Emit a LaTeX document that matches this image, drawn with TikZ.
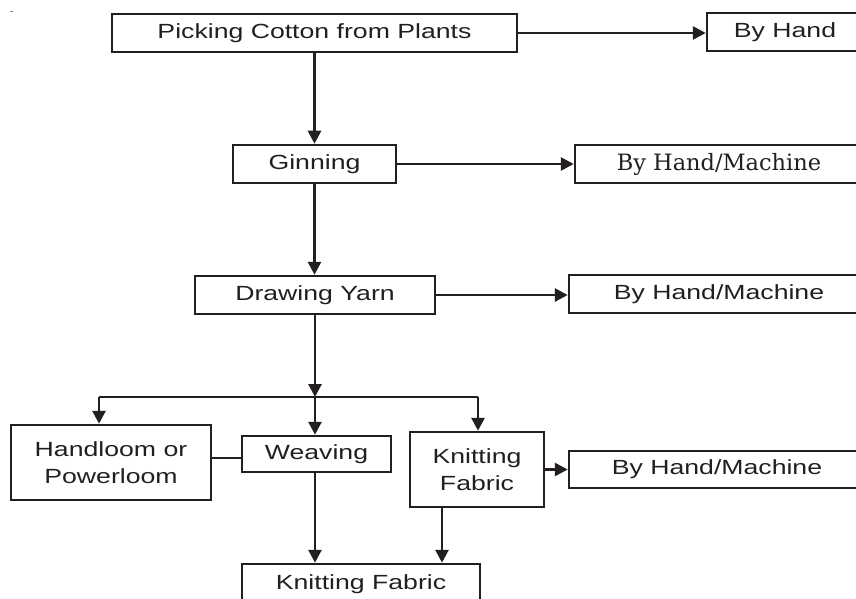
\documentclass[tikz,border=0pt]{standalone}
\usepackage{fontspec}
\setmainfont{Liberation Sans}[FakeStretch=1.3]
\newfontfamily\serifb{DejaVu Serif}
\usetikzlibrary{arrows.meta,calc}
\definecolor{ink}{HTML}{231F20}
\begin{document}
\begin{tikzpicture}[x=1pt,y=-1pt,
  box/.style={draw=ink, line width=2.5pt, rectangle, inner sep=0pt, align=center,
    text=ink, font=\fontsize{20.5}{27}\selectfont},
  conn/.style={draw=ink, line width=2.8pt},
  arr/.style={conn, -{Triangle[length=13pt,width=13pt]}},
  thin/.style={draw=ink, line width=1.5pt}]
\useasboundingbox (0,0) rectangle (856,599);
% small mark
\draw[gray, line width=1pt] (10,12) -- (13,12);
% nodes
\node[box, minimum width=405pt, minimum height=38pt] (pick) at (314.5,33) {Picking Cotton from Plants};
\node[box, minimum width=156pt, minimum height=38pt] (byhand) at (785,32) {By Hand};
\node[box, minimum width=163pt, minimum height=38pt] (gin) at (314.5,164) {Ginning};
\node[box, minimum width=288pt, minimum height=38pt, font=\serifb\fontsize{22.5}{27}\selectfont] (bhm1) at (719,164) {By Hand/Machine};
\node[box, minimum width=240pt, minimum height=38pt] (dy) at (315,295) {Drawing Yarn};
\node[box, minimum width=300pt, minimum height=38pt] (bhm2) at (719,294) {By Hand/Machine};
\node[box, minimum width=200pt, minimum height=75pt] (hand) at (111,462.5) {Handloom or\\Powerloom};
\node[box, minimum width=149pt, minimum height=36pt] (weav) at (316.5,454) {Weaving};
\node[box, minimum width=134pt, minimum height=75pt] (knit) at (477,469.5) {Knitting\\Fabric};
\node[box, minimum width=296pt, minimum height=37pt] (bhm3) at (717,469.5) {By Hand/Machine};
\node[box, minimum width=238pt, minimum height=40pt] (kf) at (361,584) {Knitting Fabric};
% helper coordinates
\coordinate (jn) at (315,397);
\coordinate (bl) at (99,397);
\coordinate (br) at (478,397);
\coordinate (hw) at (0,458);
\coordinate (kx) at (442,0);
% connectors
\draw[arr] (pick.east) -- (pick.east -| byhand.west);
\draw[arr] (pick.south) -- (gin.north);
\draw[arr] (gin.east) -- (gin.east -| bhm1.west);
\draw[arr] (gin.south) -- (gin.south |- dy.north);
\draw[arr] (dy.east) -- (dy.east -| bhm2.west);
\draw[arr] (dy.south) -- (jn);
\draw[conn] (bl) -- (br);
\draw[arr] (bl) -- (bl |- hand.north);
\draw[arr] (br) -- (br |- knit.north);
\draw[arr] (jn) -- (jn |- weav.north);
\draw[thin] (hand.east |- hw) -- (weav.west |- hw);
\draw[arr] (knit.east) -- (knit.east -| bhm3.west);
\draw[arr] (jn |- weav.south) -- (jn |- kf.north);
\draw[arr] (kx |- knit.south) -- (kx |- kf.north);
\end{tikzpicture}
\end{document}
